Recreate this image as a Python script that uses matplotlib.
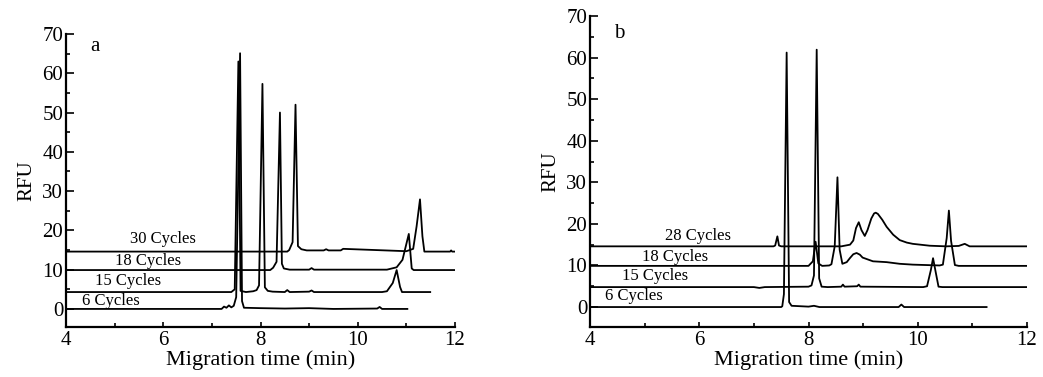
import matplotlib
matplotlib.use("Agg")
from matplotlib import pyplot as plt
from matplotlib.ticker import MultipleLocator

plt.rcParams['font.family'] = ['Liberation Serif', 'DejaVu Serif']

# ---- panel a : traces (time in min, RFU) ----
a6_x = [4.0, 7.20, 7.25, 7.30, 7.35, 7.40, 7.45, 7.50, 7.55, 7.58, 7.62, 7.66, 8.0, 8.5, 9.0, 9.5,
        10.4, 10.45, 10.5, 11.02]
a6_y = [0, 0, 0.6, 0.3, 0.9, 0.4, 0.8, 3.0, 40, 65.1, 2.0, 0.3, 0.2, 0.1, 0.2, 0,
        0.1, 0.5, 0, 0]

a15_x = [4.0, 7.40, 7.47, 7.545, 7.59, 7.70, 7.85, 7.92, 7.97, 8.04, 8.09, 8.15, 8.25, 8.5, 8.55,
         8.6, 9.0, 9.05, 9.1, 10.5, 10.60, 10.72, 10.80, 10.87, 10.91, 11.49]
a15_y = [4.3, 4.3, 5.0, 63.0, 4.6, 4.3, 4.5, 4.8, 6.0, 57.3, 5.5, 4.6, 4.4, 4.3, 4.8,
         4.3, 4.4, 4.7, 4.3, 4.3, 4.5, 6.6, 9.9, 5.6, 4.3, 4.3]

a18_x = [4.0, 8.20, 8.26, 8.33, 8.40, 8.44, 8.48, 8.60, 9.0, 9.05, 9.1, 10.6, 10.8, 10.92, 11.05,
         11.11, 11.15, 12.0]
a18_y = [9.9, 9.9, 10.5, 12.0, 50.0, 11.5, 10.3, 10.0, 10.0, 10.4, 10.0, 10.0, 10.6, 12.5, 19.1,
         10.3, 9.9, 9.9]

a30_x = [4.0, 8.55, 8.59, 8.66, 8.72, 8.77, 8.84, 8.95, 9.3, 9.35, 9.4, 9.65, 9.7, 11.0, 11.14,
         11.21, 11.28, 11.33, 11.37, 11.9, 11.92, 11.94, 12.04]
a30_y = [14.6, 14.6, 15.0, 17.0, 52.0, 16.0, 15.2, 14.9, 14.9, 15.2, 14.9, 14.9, 15.3, 14.7, 15.3,
         21.0, 27.9, 18.5, 14.6, 14.6, 14.9, 14.6, 14.6]

# ---- panel b ----
b6_x = [4.0, 7.50, 7.52, 7.55, 7.60, 7.645, 7.69, 8.0, 8.1, 8.2, 9.65, 9.70, 9.75, 11.26]
b6_y = [0, 0, 0.2, 3.1, 61.2, 1.2, 0.3, 0.1, 0.3, 0, 0, 0.6, 0, 0]

b15_x = [4.0, 7.0, 7.1, 7.2, 8.0, 8.055, 8.10, 8.15, 8.195, 8.24, 8.35, 8.60, 8.63, 8.66, 8.89,
         8.92, 8.95, 10.10, 10.17, 10.24, 10.28, 10.33, 10.38, 10.45, 12.0]
b15_y = [4.8, 4.8, 4.6, 4.8, 4.9, 5.2, 7.6, 61.9, 6.9, 4.9, 4.8, 4.9, 5.4, 4.9, 5.0,
         5.4, 4.9, 4.8, 5.0, 8.9, 11.75, 8.3, 4.9, 4.8, 4.8]

b18_x = [4.0, 8.0, 8.08, 8.13, 8.18, 8.25, 8.38, 8.42, 8.48, 8.53, 8.57, 8.62, 8.70, 8.76, 8.82,
         8.88, 8.94, 8.99, 9.18, 9.43, 9.67, 9.91, 10.40, 10.46, 10.53, 10.57, 10.61, 10.68, 10.75, 12.0]
b18_y = [9.9, 9.9, 11.0, 15.7, 10.5, 9.9, 10.0, 10.3, 14.6, 31.2, 13.8, 10.4, 10.8, 11.8, 12.7,
         13.0, 12.6, 11.9, 11.0, 10.8, 10.4, 10.2, 10.0, 10.2, 16.6, 23.2, 15.9, 10.1, 9.9, 9.9]

b28_x = [4.0, 7.36, 7.39, 7.43, 7.46, 7.50, 8.60, 8.76, 8.82, 8.87, 8.92, 8.97, 9.03, 9.08, 9.15,
         9.20, 9.23, 9.27, 9.35, 9.43, 9.55, 9.67, 9.80, 9.91, 10.22, 10.52, 10.75, 10.86, 10.95, 12.0]
b28_y = [14.6, 14.6, 14.8, 17.0, 14.8, 14.6, 14.6, 15.0, 16.0, 19.0, 20.4, 18.5, 17.1, 18.5, 21.3,
         22.5, 22.7, 22.4, 21.0, 19.3, 17.4, 16.1, 15.5, 15.2, 14.75, 14.6, 14.7, 15.2, 14.6, 14.6]

a_labels = ['30 Cycles', '18 Cycles', '15 Cycles', '6 Cycles']
a_label_x = [5.32, 5.0, 4.6, 4.32]
a_label_y = [17.7, 12.2, 7.1, 2.0]

b_labels = ['28 Cycles', '18 Cycles', '15 Cycles', '6 Cycles']
b_label_x = [5.38, 4.96, 4.58, 4.27]
b_label_y = [17.0, 12.15, 7.35, 2.55]

fig = plt.figure(figsize=(10.43, 3.77), dpi=100)
ax_a = fig.add_axes([66/1043, 50/377, 389/1043, 293/377])
ax_b = fig.add_axes([590/1043, 50/377, 437/1043, 311/377])


def style_axis(ax, ymin):
    ax.set_xlim(4, 12)
    ax.set_ylim(ymin, 70)
    for s in ['top', 'right']:
        ax.spines[s].set_visible(False)
    for s in ['left', 'bottom']:
        ax.spines[s].set_linewidth(1.6)
    ax.xaxis.set_major_locator(MultipleLocator(2))
    ax.xaxis.set_minor_locator(MultipleLocator(1))
    ax.yaxis.set_major_locator(MultipleLocator(10))
    ax.yaxis.set_minor_locator(MultipleLocator(5))
    ax.tick_params(which='both', direction='in', width=1.2, labelsize=15)
    ax.tick_params(axis='y', which='major', length=5.5, pad=2)
    ax.tick_params(axis='y', which='minor', length=3)
    ax.tick_params(axis='x', which='major', length=3.5, pad=3)
    ax.tick_params(axis='x', which='minor', length=3)
    ax.set_yticks(range(0, 71, 10))
    ax.set_xlabel('Migration time (min)', fontsize=16, labelpad=0)
    ax.set_ylabel('RFU', fontsize=15, labelpad=4)


for xs, ys in [(a6_x, a6_y), (a15_x, a15_y), (a18_x, a18_y), (a30_x, a30_y)]:
    ax_a.plot(xs, ys, color='black', lw=1.3)
for t, x, y in zip(a_labels, a_label_x, a_label_y):
    ax_a.text(x, y, t, fontsize=12, ha='left', va='center')
ax_a.text(4.6, 66.8, 'a', fontsize=15, ha='center', va='center')
style_axis(ax_a, -4.6)

for xs, ys in [(b6_x, b6_y), (b15_x, b15_y), (b18_x, b18_y), (b28_x, b28_y)]:
    ax_b.plot(xs, ys, color='black', lw=1.3)
for t, x, y in zip(b_labels, b_label_x, b_label_y):
    ax_b.text(x, y, t, fontsize=12, ha='left', va='center')
ax_b.text(4.54, 65.8, 'b', fontsize=15, ha='center', va='center')
style_axis(ax_b, -4.8)

fig.savefig('out.png', dpi=100)
